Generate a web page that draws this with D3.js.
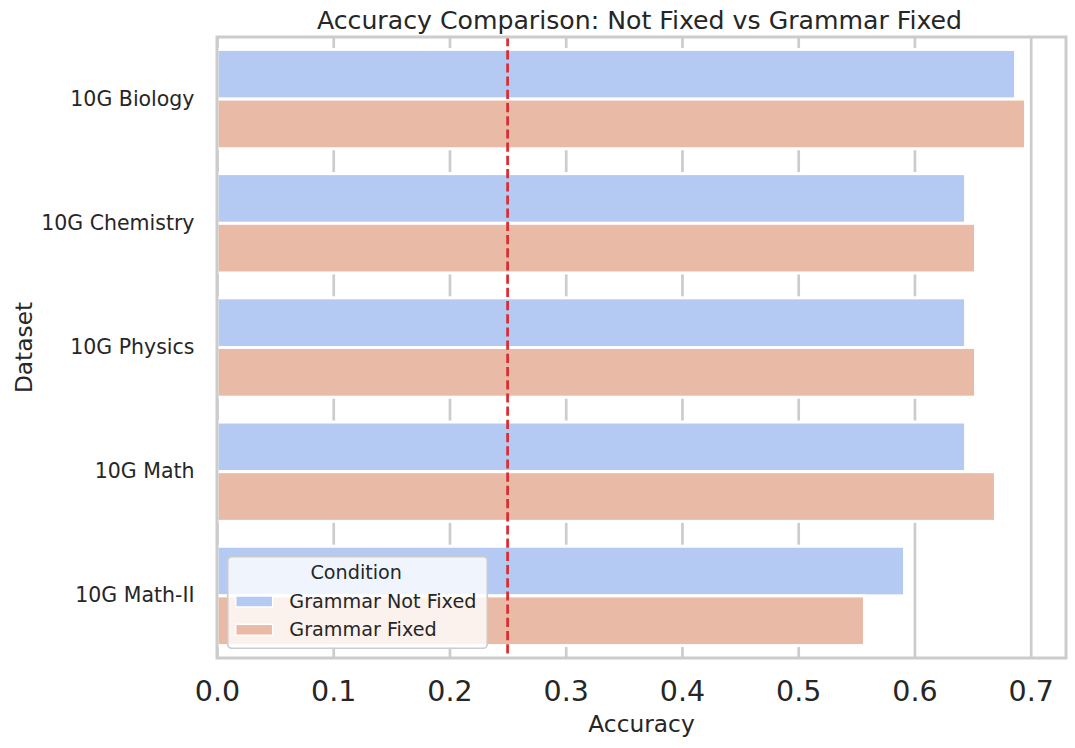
<!DOCTYPE html>
<html>
<head>
<meta charset="utf-8">
<script src="https://cdn.jsdelivr.net/npm/d3@7"></script>
<style>
  body { margin: 0; background: #fff; }
  text { font-family: "DejaVu Sans", sans-serif; fill: #262626; }
</style>
</head>
<body>
<svg id="chart" width="1075" height="748"></svg>
<script>
// data
const datasets = ['10G Biology', '10G Chemistry', '10G Physics', '10G Math', '10G Math-II'];
const conditions = ['Grammar Not Fixed', 'Grammar Fixed'];
const notFixed = [0.687, 0.644, 0.644, 0.644, 0.5915];
const fixed = [0.6956, 0.6526, 0.6526, 0.6697, 0.557];
const xTicks = [0, 0.1, 0.2, 0.3, 0.4, 0.5, 0.6, 0.7];
const chance = 0.25;

const colors = { 'Grammar Not Fixed': '#b5caf3', 'Grammar Fixed': '#e9bba7' };

// rows for the grouped bars
const rows = datasets.map((d, i) => ({ dataset: d, values: [
  { cond: conditions[0], v: notFixed[i] },
  { cond: conditions[1], v: fixed[i] }
]}));

const svg = d3.select('#chart');

// plot box
const box = { left: 217, right: 1066, top: 37, bottom: 658 };

// x: matplotlib style 5% margin past the longest bar
const xMax = d3.max(fixed.concat(notFixed)) * 1.05;
const x = d3.scaleLinear().domain([0, xMax]).range([box.left, box.right]);

// y: one band per dataset, split in two for the conditions
const y0 = d3.scaleBand().domain(datasets).range([box.top, box.bottom])
  .paddingInner(0.2).paddingOuter(0.1);
const y1 = d3.scaleBand().domain(conditions).range([0, y0.bandwidth()]);

// vertical grid behind the bars
const grid = svg.append('g')
  .attr('transform', 'translate(0,' + box.bottom + ')')
  .call(d3.axisBottom(x).tickValues(xTicks).tickSize(-(box.bottom - box.top)).tickFormat(''));
grid.select('.domain').remove();
grid.selectAll('line').attr('stroke', '#cccccc').attr('stroke-width', 2.7);

// bars
svg.append('g')
  .selectAll('g')
  .data(rows)
  .enter()
  .append('g')
  .attr('transform', d => 'translate(0,' + y0(d.dataset) + ')')
  .selectAll('rect')
  .data(d => d.values)
  .enter()
  .append('rect')
  .attr('x', x(0))
  .attr('y', d => y1(d.cond))
  .attr('width', d => x(d.v) - x(0))
  .attr('height', y1.bandwidth())
  .attr('fill', d => colors[d.cond])
  .attr('stroke', '#ffffff')
  .attr('stroke-width', 3);

// chance line
svg.append('line')
  .attr('x1', x(chance)).attr('x2', x(chance))
  .attr('y1', box.top).attr('y2', box.bottom)
  .attr('stroke', '#dc2a2f')
  .attr('stroke-width', 2.7)
  .attr('stroke-dasharray', '9.2,4');

// spines
svg.append('rect')
  .attr('x', box.left).attr('y', box.top)
  .attr('width', box.right - box.left).attr('height', box.bottom - box.top)
  .attr('fill', 'none').attr('stroke', '#cccccc').attr('stroke-width', 3);

// x tick labels
const xAxis = svg.append('g')
  .attr('transform', 'translate(0,' + box.bottom + ')')
  .call(d3.axisBottom(x).tickValues(xTicks).tickFormat(d3.format('.1f')).tickSize(0).tickPadding(23));
xAxis.select('.domain').remove();
xAxis.selectAll('text')
  .style('font-family', '"DejaVu Sans", sans-serif')
  .style('font-size', '28.5px')
  .attr('fill', '#262626');

// y tick labels
const yAxis = svg.append('g')
  .attr('transform', 'translate(' + box.left + ',0)')
  .call(d3.axisLeft(y0).tickSize(0).tickPadding(22.5));
yAxis.select('.domain').remove();
yAxis.selectAll('text')
  .style('font-family', '"DejaVu Sans", sans-serif')
  .style('font-size', '20.5px')
  .attr('fill', '#262626');

// titles
svg.append('text')
  .attr('x', (box.left + box.right) / 2 - 2).attr('y', 28.5)
  .attr('text-anchor', 'middle')
  .style('font-size', '25.2px')
  .text('Accuracy Comparison: Not Fixed vs Grammar Fixed');

svg.append('text')
  .attr('x', (box.left + box.right) / 2).attr('y', 732)
  .attr('text-anchor', 'middle')
  .style('font-size', '23.3px')
  .text('Accuracy');

svg.append('text')
  .attr('transform', 'translate(31.5,' + ((box.top + box.bottom) / 2) + ') rotate(-90)')
  .attr('text-anchor', 'middle')
  .style('font-size', '23.3px')
  .text('Dataset');

// legend
const legend = svg.append('g').attr('transform', 'translate(227.7,556.7)');
legend.append('rect')
  .attr('width', 259.6).attr('height', 91.6)
  .attr('rx', 4).attr('ry', 4)
  .attr('fill', '#ffffff').attr('fill-opacity', 0.8)
  .attr('stroke', '#cccccc').attr('stroke-width', 1.6);
legend.append('text')
  .attr('x', 128.5).attr('y', 22.3)
  .attr('text-anchor', 'middle')
  .style('font-size', '19.2px')
  .text('Condition');

const item = legend.selectAll('g.item')
  .data(conditions)
  .enter()
  .append('g')
  .attr('class', 'item')
  .attr('transform', (d, i) => 'translate(0,' + (i * 28.3) + ')');
item.append('rect')
  .attr('x', 8).attr('y', 39.3)
  .attr('width', 37).attr('height', 11)
  .attr('fill', d => colors[d])
  .attr('stroke', '#ffffff').attr('stroke-width', 1.5);
item.append('text')
  .attr('x', 61.6).attr('y', 51)
  .style('font-size', '19.2px')
  .text(d => d);
</script>
</body>
</html>
